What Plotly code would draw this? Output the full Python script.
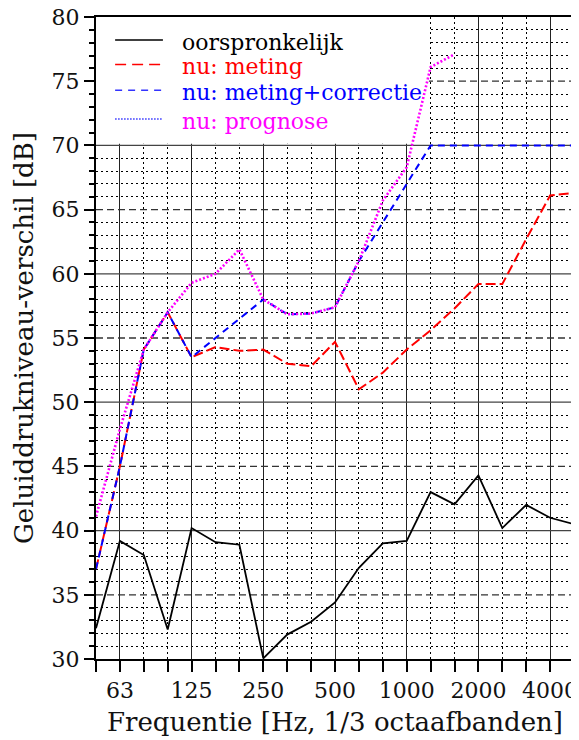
import plotly.graph_objects as go

# tertsbanden 50 Hz .. 5000 Hz
bands = ["50", "63", "80", "100", "125", "160", "200", "250", "315", "400", "500",
         "630", "800", "1000", "1250", "1600", "2000", "2500", "3150", "4000", "5000"]
tick_labels = ["63", "125", "250", "500", "1000", "2000", "4000"]

oorspronkelijk = [32.4, 39.2, 38.1, 32.3, 40.2, 39.1, 38.9, 30.05, 31.9, 32.9, 34.4,
                  37.1, 39.0, 39.2, 43.0, 42.05, 44.3, 40.2, 42.0, 41.0, 40.5]
meting = [37.0, 45.0, 54.1, 57.0, 53.5, 54.3, 54.0, 54.1, 53.0, 52.8, 54.7,
          51.0, 52.3, 54.1, 55.6, 57.3, 59.2, 59.2, 62.7, 66.1, 66.3]
meting_correctie = [37.0, 45.0, 54.1, 57.0, 53.5, 55.0, 56.5, 58.0, 56.85, 56.9, 57.4,
                    61.0, 64.0, 67.0, 70.0, 70.0, 70.0, 70.0, 70.0, 70.0, 70.0]
prognose = [41.1, 47.9, 54.1, 57.0, 59.3, 60.0, 61.9, 58.0, 56.85, 56.9, 57.4,
            61.0, 65.7, 68.3, 76.1, 77.1, None, None, None, None, None]

x = list(range(len(bands)))
tick_pos = [bands.index(t) for t in tick_labels]

FONT = "DejaVu Serif, Liberation Serif, serif"

series = [
    # naam, data, kleur lijn, dash lijn, breedte, kleur legenda-lijn, dash legenda, tekstkleur
    ("oorspronkelijk", oorspronkelijk, "black", "solid", 1.8, "black", "solid", "black"),
    ("nu: meting", meting, "#ff0000", "10px,4px", 2.0, "#ff0000", "11px,6px", "#ff0000"),
    ("nu: meting+correctie", meting_correctie, "#0000ff", "7px,5px", 2.0, "#3333ff", "7px,6px", "#0000ff"),
    ("nu: prognose", prognose, "#ff00ff", "2px,2px", 2.6, "#3333ff", "1.5px,1.5px", "#ff00ff"),
]

fig = go.Figure()
for name, vals, col, dash, w, _, _, _ in series:
    fig.add_trace(go.Scatter(x=x, y=vals, mode="lines", name=name, showlegend=False,
                             line=dict(color=col, dash=dash, width=w)))

shapes = []
# horizontale rasterlijnen om de 5 dB: doorgetrokken bij tientallen, gestreept ertussen
for v in range(35, 80, 5):
    if v % 10 == 0:
        ln = dict(color="#444", width=1.3)
    else:
        ln = dict(color="#333", width=1.3, dash="7px,4px")
    shapes.append(dict(type="line", xref="x", yref="y", x0=0, x1=20, y0=v, y1=v,
                       line=ln, layer="between"))
# witte achtergrond achter de legenda
shapes.append(dict(type="rect", xref="x", yref="y", x0=0, x1=13.93, y0=70.12, y1=80,
                   fillcolor="white", line=dict(width=0), layer="between"))

# handgemaakte legenda
annotations = []
rows = [0.964, 0.926, 0.886, 0.841]
for (name, _, _, _, w, lcol, ldash, tcol), yy in zip(series, rows):
    shapes.append(dict(type="line", xref="x domain", yref="y domain",
                       x0=0.040, x1=0.140, y0=yy, y1=yy,
                       line=dict(color=lcol, dash=ldash, width=1.5)))
    annotations.append(dict(xref="x domain", yref="y domain", x=0.176, y=yy - 0.003,
                            text=name, showarrow=False, xanchor="left", yanchor="middle",
                            font=dict(family=FONT, size=22, color=tcol)))

# de pagina heeft 8px marge rond de figuur
fig.update_layout(
    width=579, height=740,
    margin=dict(l=88, r=13, t=9, b=89),
    paper_bgcolor="white", plot_bgcolor="white",
    font=dict(family=FONT, size=22, color="#111"),
    shapes=shapes, annotations=annotations,
    showlegend=False,
)

fig.update_xaxes(
    range=[0, 20], tickmode="array", tickvals=tick_pos, ticktext=tick_labels,
    ticks="outside", ticklen=11, tickwidth=1.5, tickcolor="black",
    tickfont=dict(family=FONT, size=22),
    showgrid=True, gridcolor="#222", gridwidth=1.2,
    minor=dict(tickmode="linear", tick0=0, dtick=1, ticks="outside", ticklen=11,
               tickwidth=1.5, tickcolor="black", showgrid=True, gridcolor="black",
               gridwidth=1, griddash="2px,3px"),
    showline=True, linecolor="black", linewidth=2, mirror=True, zeroline=False,
    automargin=False, ticklabeloverflow="allow",
    title=dict(text="Frequentie [Hz, 1/3 octaafbanden]", standoff=10),
)
fig.update_yaxes(
    range=[30, 80], tickmode="linear", tick0=30, dtick=5,
    ticks="outside", ticklen=10, tickwidth=1.5, tickcolor="black",
    tickfont=dict(family=FONT, size=22),
    showgrid=False,
    minor=dict(tickmode="linear", tick0=30, dtick=1, ticks="outside", ticklen=5,
               tickwidth=1.5, tickcolor="black", showgrid=True, gridcolor="black",
               gridwidth=1, griddash="2px,3px"),
    showline=True, linecolor="black", linewidth=2, mirror=True, zeroline=False,
    automargin=False, ticklabeloverflow="allow",
    title=dict(text="Geluiddrukniveau-verschil [dB]", standoff=10),
)

fig.write_html("out.html")
